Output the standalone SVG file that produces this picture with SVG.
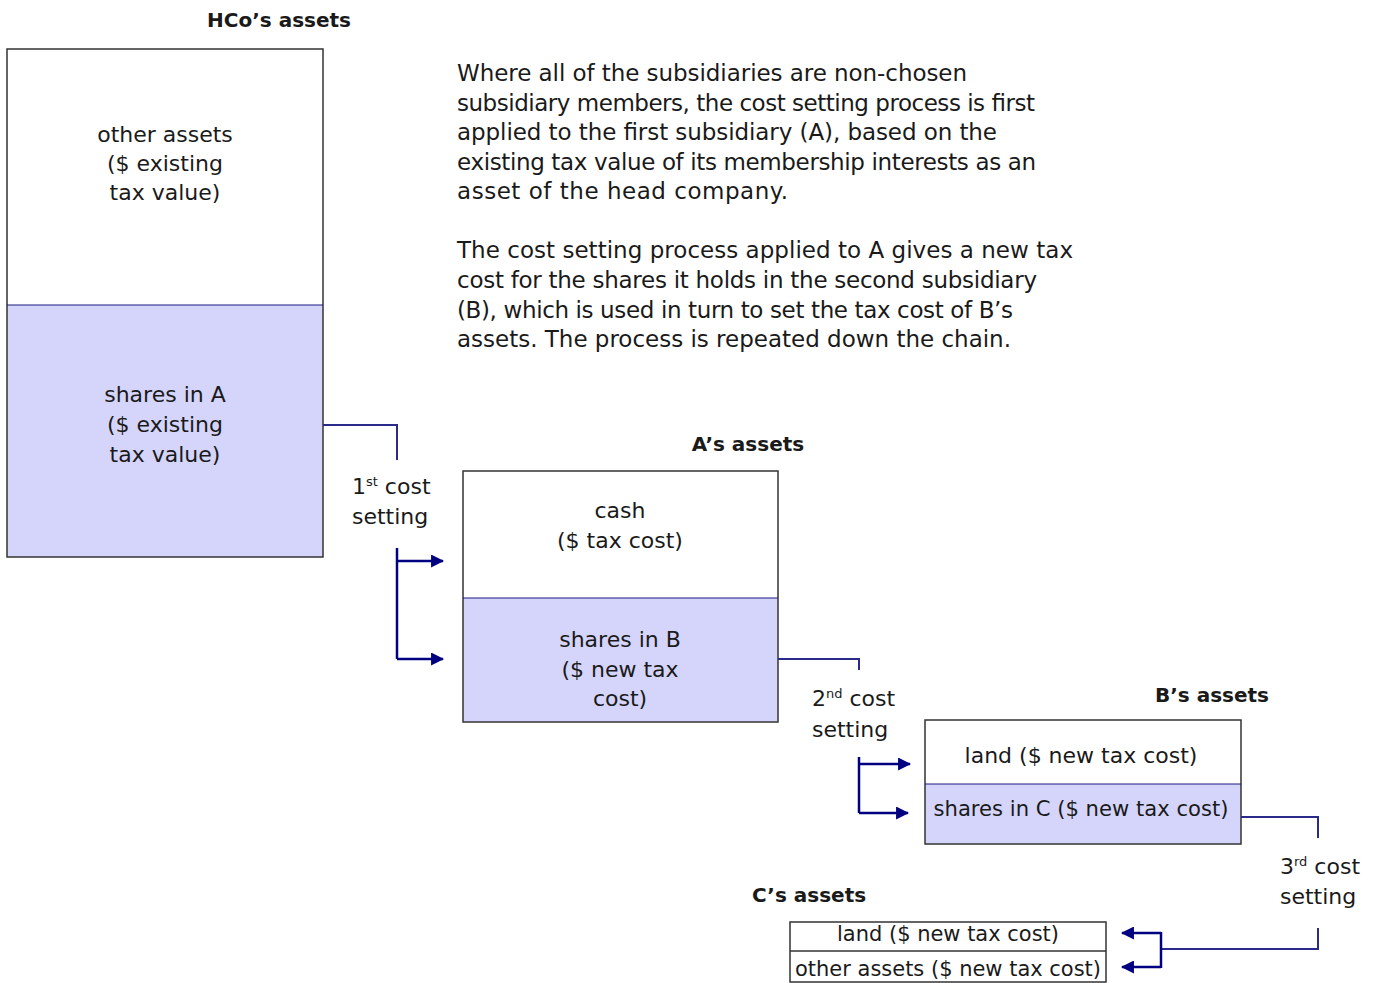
<svg xmlns="http://www.w3.org/2000/svg" width="1384" height="983" viewBox="0 0 1384 983">
<defs>
<style>
text{font-family:"DejaVu Sans","Liberation Sans",sans-serif;fill:#1a1a1a}
.h{font-weight:bold;font-size:20px;text-anchor:middle}
.t{font-size:22px;text-anchor:middle}
.p{font-size:22px}
.q{font-size:23px}
.s{font-size:13px}
.box{stroke:#333;stroke-width:1.5}
.w{fill:#fff}
.f{fill:#d5d5fb}
.div{stroke:#1a1a80;stroke-width:1.2}
.c{fill:none;stroke:#2a2a8a;stroke-width:2}
.a{fill:none;stroke:#000080;stroke-width:2.5}
</style>
<marker id="ah" viewBox="0 0 12 12" refX="11" refY="6" markerWidth="13" markerHeight="13" markerUnits="userSpaceOnUse" orient="auto">
<path d="M0,0 L12,6 L0,12 z" fill="#000080"/>
</marker>
</defs>
<rect width="1384" height="983" fill="#fff"/>

<g id="text-block">
<text class="q" x="457" y="81" textLength="510" lengthAdjust="spacing">Where all of the subsidiaries are non-chosen</text>
<text class="q" x="457" y="111" textLength="578" lengthAdjust="spacing">subsidiary members, the cost setting process is first</text>
<text class="q" x="457" y="140" textLength="540" lengthAdjust="spacing">applied to the first subsidiary (A), based on the</text>
<text class="q" x="457" y="170" textLength="579" lengthAdjust="spacing">existing tax value of its membership interests as an</text>
<text class="q" x="457" y="199" textLength="331" lengthAdjust="spacing">asset of the head company.</text>
<text class="q" x="457" y="258" textLength="616" lengthAdjust="spacing">The cost setting process applied to A gives a new tax</text>
<text class="q" x="457" y="288" textLength="580" lengthAdjust="spacing">cost for the shares it holds in the second subsidiary</text>
<text class="q" x="457" y="318" textLength="556" lengthAdjust="spacing">(B), which is used in turn to set the tax cost of B’s</text>
<text class="q" x="457" y="347" textLength="554" lengthAdjust="spacing">assets. The process is repeated down the chain.</text>
</g>

<g id="hco">
<text class="h" x="279" y="27">HCo’s assets</text>
<rect class="w" x="7" y="49" width="316" height="256"/>
<rect class="f" x="7" y="305" width="316" height="252"/>
<rect class="box" x="7" y="49" width="316" height="508" fill="none"/>
<line class="div" x1="7" y1="305" x2="323" y2="305"/>
<text class="t" x="165" y="142">other assets</text>
<text class="t" x="165" y="171">($ existing</text>
<text class="t" x="165" y="200">tax value)</text>
<text class="t" x="165" y="402">shares in A</text>
<text class="t" x="165" y="432">($ existing</text>
<text class="t" x="165" y="462">tax value)</text>
</g>

<g id="a">
<text class="h" x="748" y="451">A’s assets</text>
<rect class="w" x="463" y="471" width="315" height="127"/>
<rect class="f" x="463" y="598" width="315" height="124"/>
<rect class="box" x="463" y="471" width="315" height="251" fill="none"/>
<line class="div" x1="463" y1="598" x2="778" y2="598"/>
<text class="t" x="620" y="518">cash</text>
<text class="t" x="620" y="548">($ tax cost)</text>
<text class="t" x="620" y="647">shares in B</text>
<text class="t" x="620" y="677">($ new tax</text>
<text class="t" x="620" y="706">cost)</text>
</g>

<g id="b">
<text class="h" x="1212" y="702">B’s assets</text>
<rect class="w" x="925" y="720" width="316" height="64"/>
<rect class="f" x="925" y="784" width="316" height="60"/>
<rect class="box" x="925" y="720" width="316" height="124" fill="none"/>
<line class="div" x1="925" y1="784" x2="1241" y2="784"/>
<text class="t" x="1081" y="763">land ($ new tax cost)</text>
<text class="t" x="1081" y="816" textLength="295" lengthAdjust="spacingAndGlyphs">shares in C ($ new tax cost)</text>
</g>

<g id="c">
<text class="h" x="809" y="902">C’s assets</text>
<rect class="w box" x="790" y="922" width="316" height="60"/>
<line class="box" x1="790" y1="951" x2="1106" y2="951"/>
<text class="t" x="948" y="941" textLength="222" lengthAdjust="spacingAndGlyphs">land ($ new tax cost)</text>
<text class="t" x="948" y="976" textLength="306" lengthAdjust="spacingAndGlyphs">other assets ($ new tax cost)</text>
</g>

<g id="connectors">
<path class="c" d="M323,425 H397 V460"/>
<path class="a" d="M397,548 V659"/>
<path class="a" d="M397,561 H443" marker-end="url(#ah)"/>
<path class="a" d="M397,659 H443" marker-end="url(#ah)"/>
<path class="c" d="M778,659 H859 V670"/>
<path class="a" d="M859,757 V813"/>
<path class="a" d="M859,764 H910" marker-end="url(#ah)"/>
<path class="a" d="M859,813 H908" marker-end="url(#ah)"/>
<path class="c" d="M1241,817 H1318 V838"/>
<path class="c" d="M1318,928 V949 H1161"/>
<path class="a" d="M1161,932 V968"/>
<path class="a" d="M1161,933 H1122" marker-end="url(#ah)"/>
<path class="a" d="M1161,967 H1122" marker-end="url(#ah)"/>
</g>

<g id="labels">
<text class="p" x="352" y="494">1<tspan class="s" dy="-8">st</tspan><tspan dy="8"> cost</tspan></text>
<text class="p" x="352" y="524">setting</text>
<text class="p" x="812" y="706">2<tspan class="s" dy="-8">nd</tspan><tspan dy="8"> cost</tspan></text>
<text class="p" x="812" y="737">setting</text>
<text class="p" x="1280" y="874">3<tspan class="s" dy="-8">rd</tspan><tspan dy="8"> cost</tspan></text>
<text class="p" x="1280" y="904">setting</text>
</g>
</svg>
